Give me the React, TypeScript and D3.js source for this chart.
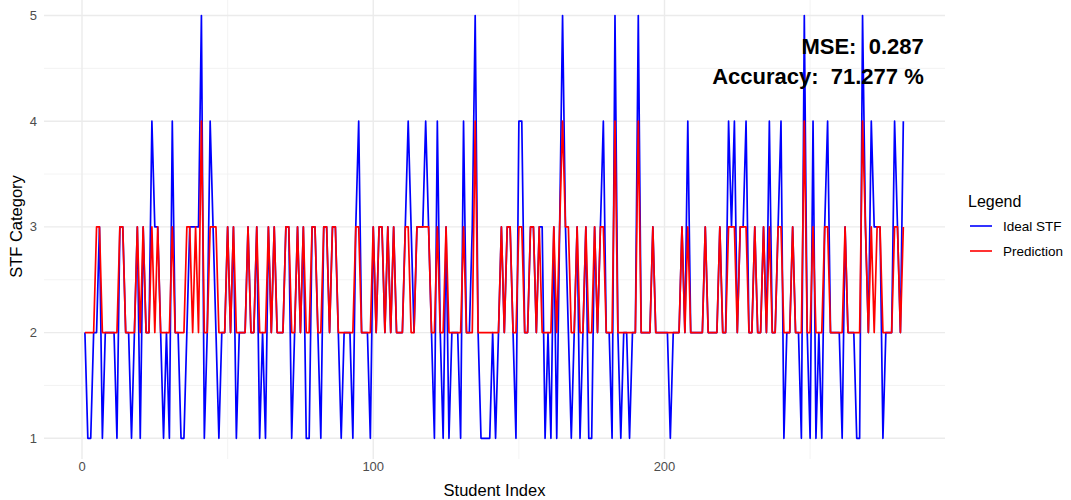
import React, { useEffect, useRef } from 'react';
import * as d3 from 'd3';

// STF category per student (students 1..282)
const idealStf = [
    2, 1, 1, 2, 2, 3, 1, 2, 2, 2, 2, 1, 3, 3, 2, 2, 1, 2, 3, 1,
    3, 2, 2, 4, 3, 3, 2, 1, 2, 1, 4, 2, 2, 1, 1, 2, 3, 3, 3, 3,
    5, 1, 2, 4, 3, 2, 1, 2, 2, 3, 2, 3, 1, 2, 2, 2, 3, 2, 2, 3,
    1, 2, 1, 3, 2, 3, 2, 2, 2, 3, 3, 1, 2, 3, 2, 3, 1, 1, 3, 3,
    2, 1, 3, 3, 2, 3, 3, 2, 1, 2, 2, 2, 1, 3, 4, 2, 2, 2, 1, 3,
    2, 3, 3, 2, 3, 2, 3, 2, 2, 2, 3, 4, 3, 2, 3, 3, 3, 4, 3, 2,
    1, 4, 2, 1, 3, 1, 2, 2, 2, 1, 4, 2, 2, 3, 5, 2, 1, 1, 1, 1,
    2, 1, 2, 3, 2, 3, 3, 2, 1, 4, 4, 2, 2, 3, 3, 2, 3, 3, 1, 2,
    1, 3, 1, 3, 5, 3, 2, 1, 2, 3, 1, 2, 3, 1, 1, 3, 2, 3, 4, 2,
    2, 1, 5, 2, 1, 2, 2, 1, 2, 2, 5, 2, 2, 2, 2, 3, 2, 2, 2, 2,
    2, 1, 2, 2, 2, 3, 2, 4, 2, 2, 2, 2, 2, 3, 2, 2, 2, 2, 3, 2,
    2, 4, 3, 4, 2, 3, 3, 4, 2, 2, 3, 2, 2, 3, 2, 4, 2, 2, 3, 4,
    1, 2, 2, 3, 2, 2, 1, 5, 2, 1, 4, 1, 2, 1, 3, 4, 2, 2, 2, 2,
    1, 3, 2, 2, 2, 1, 1, 5, 3, 2, 4, 3, 3, 3, 1, 2, 2, 2, 4, 3, 2, 4
];

const prediction = [
    2, 2, 2, 2, 3, 3, 2, 2, 2, 2, 2, 2, 3, 3, 2, 2, 2, 2, 3, 2,
    3, 2, 2, 3, 2, 3, 2, 2, 2, 2, 3, 2, 2, 2, 2, 3, 3, 2, 3, 2,
    4, 2, 2, 3, 3, 3, 2, 2, 2, 3, 2, 3, 2, 2, 2, 2, 3, 2, 2, 3,
    2, 2, 2, 3, 2, 3, 2, 2, 2, 3, 3, 2, 2, 3, 2, 3, 2, 2, 3, 3,
    2, 2, 3, 3, 2, 3, 3, 2, 2, 2, 2, 2, 2, 3, 3, 2, 2, 2, 2, 3,
    2, 3, 3, 2, 3, 2, 3, 2, 2, 2, 3, 3, 2, 2, 3, 3, 3, 3, 3, 2,
    2, 3, 2, 2, 3, 2, 2, 2, 2, 2, 3, 2, 2, 2, 4, 2, 2, 2, 2, 2,
    2, 2, 2, 3, 2, 3, 3, 2, 2, 3, 3, 2, 2, 3, 3, 2, 3, 2, 2, 2,
    2, 3, 2, 3, 4, 3, 3, 2, 2, 3, 2, 2, 3, 2, 2, 3, 2, 3, 3, 2,
    2, 2, 4, 2, 2, 2, 2, 2, 2, 2, 4, 2, 2, 2, 2, 3, 2, 2, 2, 2,
    2, 2, 2, 2, 2, 3, 2, 3, 2, 2, 2, 2, 2, 3, 2, 2, 2, 2, 3, 2,
    2, 3, 3, 3, 2, 3, 3, 3, 2, 2, 3, 2, 2, 3, 2, 3, 2, 2, 3, 3,
    2, 2, 2, 3, 2, 2, 2, 4, 2, 2, 3, 2, 2, 2, 3, 3, 2, 2, 2, 2,
    2, 3, 2, 2, 2, 2, 2, 4, 3, 2, 3, 2, 3, 3, 2, 2, 2, 2, 3, 3, 2, 3
];

const xTicks = [0, 100, 200];
const xMinorTicks = [50, 150, 250];
const yTicks = [1, 2, 3, 4, 5];
const yMinorTicks = [1.5, 2.5, 3.5, 4.5];
const seriesNames = ['Ideal STF', 'Prediction'];
const seriesColors = ['#0000FF', '#FF0000'];
const mseLabel = 'MSE:  0.287';
const accuracyLabel = 'Accuracy:  71.277 %';

const FONT = '"Liberation Sans", Arial, Helvetica, sans-serif';

const App = () => {
    const svgRef = useRef(null);

    useEffect(() => {
        const width = 1071;
        const height = 500;
        const svg = d3.select(svgRef.current);
        svg.selectAll('*').remove();

        const panel = { left: 44, right: 945, top: -6, bottom: 459 };

        const x = d3.scaleLinear().domain([0, 200]).range([82, 664.5]);
        const y = d3.scaleLinear().domain([1, 5]).range([438.3, 15.5]);

        svg.attr('width', width).attr('height', height);

        const grid = svg.append('g');
        // minor grid
        grid.selectAll('.ym').data(yMinorTicks).enter().append('line')
            .attr('x1', panel.left).attr('x2', panel.right)
            .attr('y1', d => y(d)).attr('y2', d => y(d))
            .attr('stroke', '#F0F0F0').attr('stroke-width', 0.8);
        grid.selectAll('.xm').data(xMinorTicks).enter().append('line')
            .attr('x1', d => x(d)).attr('x2', d => x(d))
            .attr('y1', panel.top).attr('y2', panel.bottom)
            .attr('stroke', '#F0F0F0').attr('stroke-width', 0.8);
        // major grid
        grid.selectAll('.yM').data(yTicks).enter().append('line')
            .attr('x1', panel.left).attr('x2', panel.right)
            .attr('y1', d => y(d)).attr('y2', d => y(d))
            .attr('stroke', '#EBEBEB').attr('stroke-width', 1.4);
        grid.selectAll('.xM').data(xTicks).enter().append('line')
            .attr('x1', d => x(d)).attr('x2', d => x(d))
            .attr('y1', panel.top).attr('y2', panel.bottom)
            .attr('stroke', '#EBEBEB').attr('stroke-width', 1.4);

        // series lines
        const line = d3.line()
            .x((d, i) => x(i + 1))
            .y(d => y(d));

        [idealStf, prediction].forEach((series, k) => {
            svg.append('path')
                .datum(series)
                .attr('fill', 'none')
                .attr('stroke', seriesColors[k])
                .attr('stroke-width', 1.7)
                .attr('stroke-linejoin', 'round')
                .attr('d', line);
        });

        // axis tick labels
        svg.selectAll('.ytick').data(yTicks).enter().append('text')
            .attr('x', 37).attr('y', d => y(d))
            .attr('dy', '0.35em')
            .attr('text-anchor', 'end')
            .style('font-family', FONT).style('font-size', '13px')
            .style('fill', '#4D4D4D')
            .text(d => d);

        svg.selectAll('.xtick').data(xTicks).enter().append('text')
            .attr('x', d => x(d)).attr('y', 471)
            .attr('text-anchor', 'middle')
            .style('font-family', FONT).style('font-size', '13px')
            .style('fill', '#4D4D4D')
            .text(d => d);

        // axis titles
        svg.append('text')
            .attr('x', (panel.left + panel.right) / 2).attr('y', 496)
            .attr('text-anchor', 'middle')
            .style('font-family', FONT).style('font-size', '16.5px')
            .style('fill', '#000')
            .text('Student Index');

        svg.append('text')
            .attr('transform', `translate(22,${(panel.top + panel.bottom) / 2}) rotate(-90)`)
            .attr('text-anchor', 'middle')
            .style('font-family', FONT).style('font-size', '16.5px')
            .style('fill', '#000')
            .text('STF Category');

        // annotations
        svg.append('text')
            .attr('x', x(289)).attr('y', y(4.64))
            .attr('text-anchor', 'end')
            .style('font-family', FONT).style('font-size', '22px')
            .style('font-weight', 'bold').style('white-space', 'pre')
            .style('fill', '#000')
            .text(mseLabel);

        svg.append('text')
            .attr('x', x(289)).attr('y', y(4.355))
            .attr('text-anchor', 'end')
            .style('font-family', FONT).style('font-size', '22px')
            .style('font-weight', 'bold').style('white-space', 'pre')
            .style('fill', '#000')
            .text(accuracyLabel);

        // legend
        const legend = svg.append('g').attr('transform', 'translate(968,0)');
        legend.append('text')
            .attr('x', 0).attr('y', 207)
            .style('font-family', FONT).style('font-size', '16px')
            .style('fill', '#000')
            .text('Legend');

        seriesNames.forEach((name, k) => {
            const cy = 226 + k * 25;
            legend.append('line')
                .attr('x1', 2).attr('x2', 24)
                .attr('y1', cy).attr('y2', cy)
                .attr('stroke', seriesColors[k])
                .attr('stroke-width', 1.6);
            legend.append('text')
                .attr('x', 35).attr('y', cy)
                .attr('dy', '0.35em')
                .style('font-family', FONT).style('font-size', '13.5px')
                .style('fill', '#000')
                .text(name);
        });
    }, []);

    return (
        <div style={{ position: 'fixed', left: 0, top: 0, width: 1071, height: 500, background: '#fff' }}>
            <svg ref={svgRef} style={{ display: 'block' }}></svg>
        </div>
    );
};

export default App;
